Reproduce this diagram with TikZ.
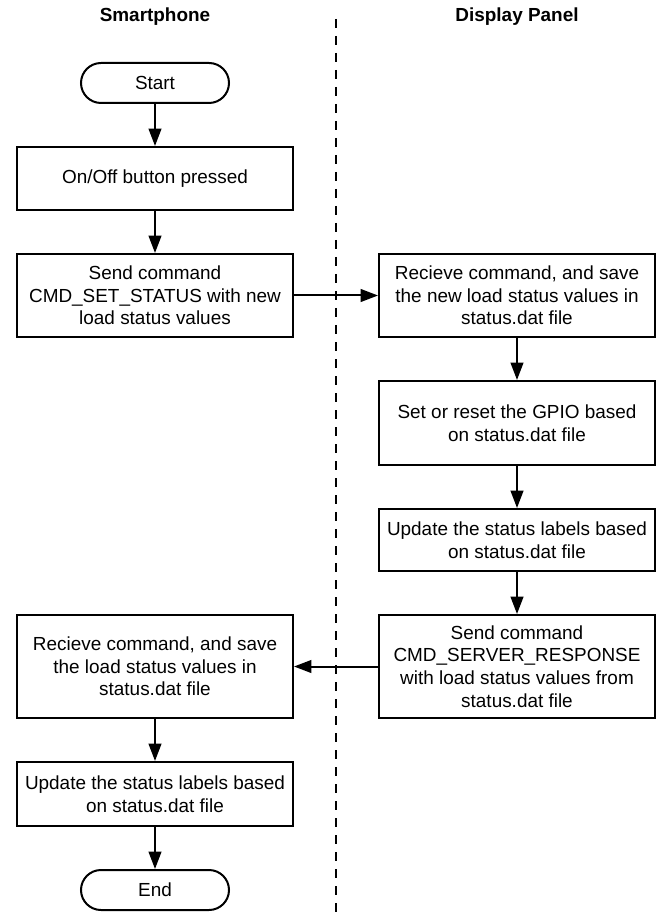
\documentclass[tikz,border=0pt]{standalone}
\usepackage{fontspec}
\setmainfont{Liberation Sans}
\usetikzlibrary{arrows.meta,positioning}
\tikzset{
  flownode/.style = {align=center, inner sep=4pt, text centered,
    font=\fontsize{14.2}{17}\selectfont, line width=1.5pt},
  lanetitle/.style = {flownode, font=\fontsize{14.2}{17}\selectfont\bfseries},% column heading
  term/.style = {flownode, rectangle, rounded corners=15pt, draw=black,
    minimum width=111pt, minimum height=30pt},% start / end
  stepbox/.style = {flownode, rectangle, draw=black,
    minimum width=207pt, minimum height=47.25pt},% process box
  lane/.style = {-, draw=black, line width=1.5pt, dash pattern=on 6.5pt off 6.25pt}
}
\begin{document}
\begin{tikzpicture}[x=0.75pt,y=0.75pt,->,>={Triangle[length=13pt,width=9.5pt]},
  line width=1.5pt,node distance=31.5pt]
\useasboundingbox (0,0) rectangle (659,-912);
\node [lanetitle] (phone) at (155,-17) {Smartphone};
\node [lanetitle] (panel) at (517,-17) {Display Panel};
\coordinate (lanetop) at (336,-19);
\coordinate (lanebot) at (336,-912);
\draw [lane] (lanetop) -- (lanebot);
% smartphone side
\node [term] (start) at (155,-83) {Start};
\node [stepbox, below=of start] (pressed) {On/Off button pressed};
\node [stepbox, below=of pressed, minimum height=62.25pt] (sendset)
  {Send command\\CMD\_SET\_STATUS with new\\load status values};
% display panel side
\node [stepbox, right=63pt of sendset, minimum height=62.25pt] (recvpanel)
  {Recieve command, and save\\the new load status values in\\status.dat file};
\node [stepbox, below=of recvpanel, minimum height=63pt] (gpio)
  {Set or reset the GPIO based\\on status.dat file};
\node [stepbox, below=of gpio, minimum height=46.5pt] (updpanel)
  {Update the status labels based\\on status.dat file};
\node [stepbox, below=of updpanel, minimum height=77.25pt] (sendresp)
  {Send command\\CMD\_SERVER\_RESPONSE\\with load status values from\\status.dat file};
% back on the smartphone
\node [stepbox, left=63pt of sendresp, minimum height=77.25pt] (recvphone)
  {Recieve command, and save\\the load status values in\\status.dat file};
\node [stepbox, below=of recvphone, minimum height=48pt] (updphone)
  {Update the status labels based\\on status.dat file};
\node [term, below=of updphone] (end) {End};

\draw (start) -- (pressed);
\draw (pressed) -- (sendset);
\draw (sendset) -- (recvpanel);
\draw (recvpanel) -- (gpio);
\draw (gpio) -- (updpanel);
\draw (updpanel) -- (sendresp);
\draw (sendresp) -- (recvphone);
\draw (recvphone) -- (updphone);
\draw (updphone) -- (end);
\end{tikzpicture}
\end{document}
